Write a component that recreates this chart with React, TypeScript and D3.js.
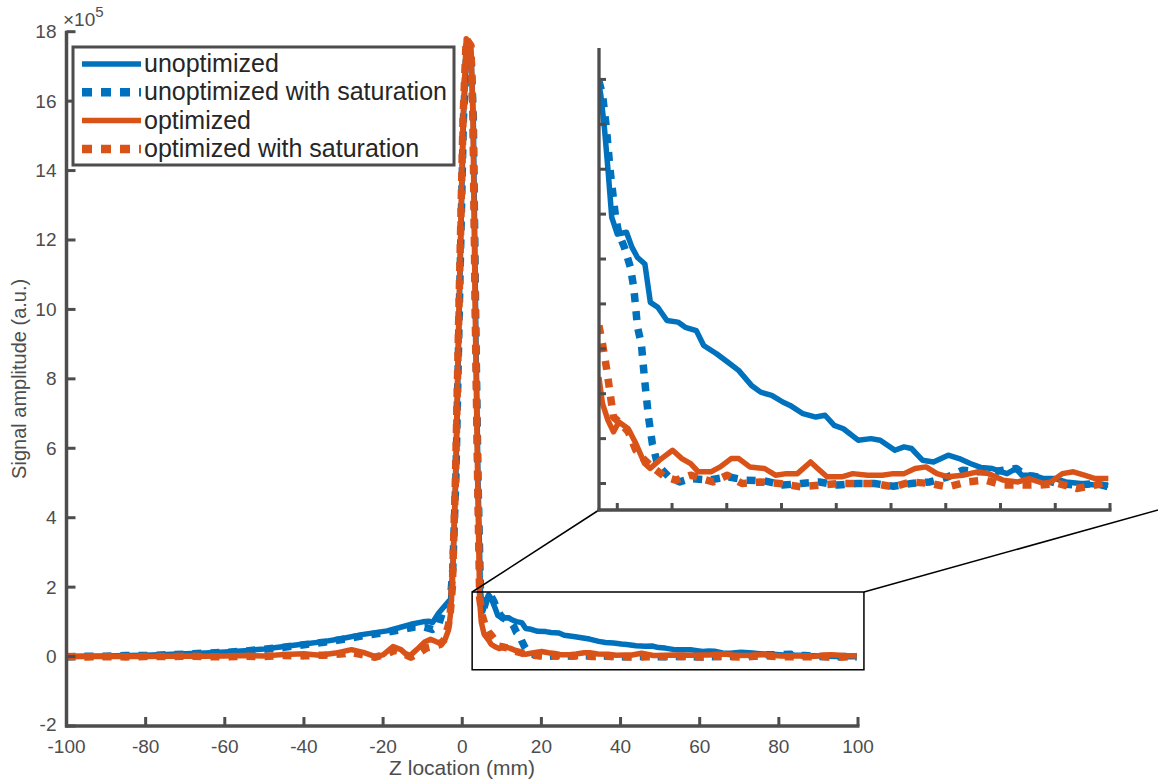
import React from 'react';
import * as d3 from 'd3';

type Pt = [number, number];

// ---------- data (amplitude in units of 1e5) ----------
const xTicks = [-100, -80, -60, -40, -20, 0, 20, 40, 60, 80, 100];
const yTicks = [-2, 0, 2, 4, 6, 8, 10, 12, 14, 16, 18];
const insetXTicks = [10, 20, 30, 40, 50, 60, 70, 80, 90, 100];
const insetYTicks = [0, 0.2, 0.4, 0.6, 0.8, 1.0, 1.2, 1.4, 1.6, 1.8];

const legendLabels = ['unoptimized', 'unoptimized with saturation', 'optimized', 'optimized with saturation'];
const seriesColors = ['#0072BD', '#0072BD', '#D95319', '#D95319'];
const seriesDotted = [false, true, false, true];

const unoptimizedNear: Pt[] = [
  [-100, 0], [-95, 0.01], [-90, 0.02], [-85, 0.03], [-80, 0.04], [-75, 0.06], [-70, 0.08], [-65, 0.1],
  [-60, 0.13], [-55, 0.17], [-50, 0.22], [-45, 0.29], [-40, 0.36], [-35, 0.43], [-30, 0.53], [-25, 0.64],
  [-22, 0.69], [-19, 0.74], [-16, 0.83], [-13, 0.93], [-10, 1.0], [-8.5, 1.02], [-7.5, 0.98], [-6, 1.25],
  [-4.5, 1.45], [-3.5, 1.5], [-3, 1.6], [-2.4, 2.5], [-1.6, 5.2], [-0.8, 9.7], [0.3, 15.5], [1.2, 17.6],
  [2.2, 17.4], [2.8, 15.5], [3.4, 9.7], [4.0, 5], [4.6, 1.9], [5.2, 1.3], [6.0, 1.6], [6.64, 1.78],
];
const unoptimizedTail: Pt[] = [
  [6.98, 1.733], [7.65, 1.585], [8.32, 1.393], [8.99, 1.185], [10, 1.111], [11.68, 1.119], [12.69, 1.052],
  [13.69, 1.007], [15.04, 0.978], [16.04, 0.807], [17.39, 0.785], [19.07, 0.726], [21.08, 0.719],
  [22.42, 0.696], [24.44, 0.681], [25.78, 0.615], [28.13, 0.578], [30.15, 0.541], [32.16, 0.504],
  [34.51, 0.437], [36.19, 0.407], [38.21, 0.393], [40.22, 0.363], [41.57, 0.348], [43.92, 0.311],
  [46.27, 0.296], [47.95, 0.304], [49.62, 0.259], [51.3, 0.244], [53.99, 0.193], [56.34, 0.2],
  [58.02, 0.193], [60.71, 0.148], [62.38, 0.163], [63.73, 0.156], [65.74, 0.104], [67.76, 0.096],
  [70.44, 0.126], [72.46, 0.111], [74.47, 0.089], [76.49, 0.071], [78.5, 0.067], [80.18, 0.052],
  [81.19, 0.044], [82.87, 0.067], [83.88, 0.037], [85.89, 0.037], [87.9, 0.022], [89.92, 0.022],
  [91.93, 0.007], [94.62, 0], [97.31, -0.007], [99.66, -0.007],
];

const unoptimizedSatNear: Pt[] = [
  [-100, -0.01], [-95, 0.01], [-90, 0.01], [-85, 0.03], [-80, 0.03], [-75, 0.05], [-70, 0.07], [-65, 0.1],
  [-60, 0.12], [-55, 0.16], [-50, 0.21], [-45, 0.27], [-40, 0.34], [-35, 0.41], [-30, 0.5], [-25, 0.6],
  [-20, 0.68], [-15, 0.78], [-12, 0.85], [-9.5, 0.85], [-7.5, 0.78], [-6, 0.9], [-4.8, 1.35], [-3.8, 1.5],
  [-3, 1.6], [-2.4, 2.5], [-1.6, 5.2], [-0.8, 9.7], [0.3, 15.5], [1.2, 17.6], [2.2, 17.4], [2.8, 15.5],
  [3.4, 9.7], [4.0, 5], [4.6, 1.9], [5.2, 1.3], [6.0, 1.6], [6.64, 1.793],
];
const unoptimizedSatTail: Pt[] = [
  [7.3, 1.733], [8.0, 1.585], [8.7, 1.393], [9.7, 1.185], [10.3, 1.111], [11.3, 1.052], [12.4, 0.963],
  [13.0, 0.874], [13.7, 0.696], [14.4, 0.622], [15.0, 0.459], [15.7, 0.296], [16.4, 0.178], [17.4, 0.081],
  [19.4, 0.03], [21.4, 0.007], [23.4, 0.022], [26.8, 0.015], [30.1, 0.03], [33.5, 0.015], [36.9, 0.012],
  [40.2, -0.007], [43.6, 0], [46.9, 0.007], [50.3, -0.007], [53.7, 0], [57.0, 0], [60.4, -0.012],
  [63.7, 0], [67.1, 0.007], [70.4, 0.03], [73.1, 0.059], [75.8, 0.052], [78.5, 0.052], [80.5, 0.059],
  [82.9, 0.067], [84.5, 0.037], [86.6, 0.03], [88.6, 0.012], [90.6, 0], [93.9, -0.007], [97.3, 0],
  [99.7, -0.015],
];

const optimizedNear: Pt[] = [
  [-100, 0], [-95, 0.01], [-90, 0], [-85, 0.01], [-80, 0], [-75, 0.01], [-70, 0.02], [-65, 0.01],
  [-60, 0.02], [-55, 0.03], [-50, 0.02], [-45, 0.06], [-40, 0.08], [-36, 0.04], [-32, 0.1], [-28, 0.2],
  [-25, 0.12], [-22, 0.0], [-20, 0.05], [-17.5, 0.29], [-15.5, 0.2], [-13.5, 0.0], [-11.5, 0.2],
  [-9.5, 0.42], [-8, 0.5], [-6, 0.4], [-4.5, 0.45], [-3.5, 0.75], [-3, 1.2], [-2.5, 2], [-1.7, 5.2],
  [-0.9, 9.7], [0.2, 15.5], [1.0, 17.8], [2.2, 17.6], [2.7, 15.5], [3.3, 9.7], [3.9, 5], [4.4, 1.6],
  [4.8, 1.0], [5.5, 0.65], [6.64, 0.474],
];
const optimizedTail: Pt[] = [
  [7.3, 0.356], [8.3, 0.281], [9.3, 0.23], [10.3, 0.274], [12.0, 0.244], [13.4, 0.178], [15.0, 0.089],
  [16.0, 0.067], [17.7, 0.104], [20.1, 0.148], [21.8, 0.111], [23.4, 0.089], [24.8, 0.052], [27.1, 0.052],
  [28.8, 0.074], [30.8, 0.111], [32.2, 0.111], [34.2, 0.074], [36.9, 0.067], [38.9, 0.037], [40.9, 0.044],
  [42.9, 0.044], [45.3, 0.096], [46.6, 0.067], [48.3, 0.03], [51.0, 0.03], [53.0, 0.044], [55.7, 0.037],
  [58.4, 0.037], [60.4, 0.044], [62.4, 0.044], [64.4, 0.067], [66.4, 0.074], [68.4, 0.044], [70.4, 0.03],
  [73.1, 0.037], [75.8, 0.052], [77.8, 0.044], [80.5, 0.015], [83.2, 0.007], [85.2, 0.022], [87.9, 0],
  [89.2, 0.007], [91.3, 0.044], [93.3, 0.052], [95.3, 0.037], [97.3, 0.022], [99.7, 0.022],
];

const optimizedSatNear: Pt[] = [
  [-100, 0], [-95, -0.01], [-90, 0], [-85, -0.01], [-80, 0], [-75, 0], [-70, 0.01], [-65, 0],
  [-60, -0.01], [-55, 0.01], [-50, 0], [-45, 0.03], [-40, 0.02], [-35, 0.04], [-30, 0.08], [-28, 0.12],
  [-25, 0.05], [-22, -0.02], [-19, 0.08], [-17, 0.18], [-15, 0.1], [-13, -0.02], [-11, 0.1], [-9, 0.25],
  [-7, 0.3], [-5.5, 0.35], [-4.5, 0.5], [-3.5, 0.9], [-3, 1.3], [-2.5, 2], [-1.7, 5.2], [-0.9, 9.7],
  [0.2, 15.5], [1.0, 17.8], [2.2, 17.6], [2.7, 15.5], [3.3, 9.7], [3.9, 5], [4.4, 1.7], [5.0, 1.2],
  [5.8, 0.9], [6.64, 0.704],
];
const optimizedSatTail: Pt[] = [
  [7.3, 0.622], [8.0, 0.519], [8.7, 0.4], [9.3, 0.296], [10.7, 0.267], [12.0, 0.23], [13.4, 0.148],
  [15.0, 0.104], [16.7, 0.067], [18.7, 0.03], [20.7, 0.015], [23.4, 0.037], [25.4, 0.022], [27.5, 0.007],
  [30.1, 0.037], [32.8, 0], [36.2, 0.007], [39.6, 0], [43.6, -0.015], [46.9, -0.007], [50.3, 0], [54.3, 0],
  [57.0, 0], [60.4, -0.015], [63.7, 0.007], [67.1, 0], [70.4, -0.015], [73.8, 0.007], [77.2, 0.015],
  [80.5, -0.007], [83.9, -0.007], [87.2, -0.007], [90.6, 0], [93.9, -0.022], [97.3, -0.007], [99.7, 0.007],
];

const zoomBoxX = [2.5, 101.5];
const zoomBoxY = [-0.38, 1.86];

const series: Pt[][] = [
  unoptimizedNear.concat(unoptimizedTail),
  unoptimizedSatNear.concat(unoptimizedSatTail),
  optimizedNear.concat(optimizedTail),
  optimizedSatNear.concat(optimizedSatTail),
];
const tails: Pt[][] = [
  [unoptimizedNear[unoptimizedNear.length - 1]].concat(unoptimizedTail),
  [unoptimizedSatNear[unoptimizedSatNear.length - 1]].concat(unoptimizedSatTail),
  [optimizedNear[optimizedNear.length - 1]].concat(optimizedTail),
  [optimizedSatNear[optimizedSatNear.length - 1]].concat(optimizedSatTail),
];

// ---------- layout ----------
const W = 1158, H = 779;
const AX = '#4d4d4d';
const FONT = '"Liberation Sans", Arial, Helvetica, sans-serif';

const x = d3.scaleLinear().domain([-100, 100]).range([66.5, 858]);
const y = d3.scaleLinear().domain([-2, 18]).range([726, 31.7]);
const ix = d3.scaleLinear().domain([6.66, 100]).range([599, 1110]);
const iy = d3.scaleLinear().domain([-0.118, 1.94]).range([510, 48]);

const SOLID_W = 5.5, DOT_W = 7.5, DASH = '9 9';

export default function App() {
  const mainLine = d3.line<Pt>().x(d => x(d[0])).y(d => y(d[1]));
  const insetLine = d3.line<Pt>().x(d => ix(d[0])).y(d => iy(d[1]));
  const [x0, x1] = x.range();
  const [y0, y1] = y.range();
  const [ix0, ix1] = ix.range();
  const [iy0, iy1] = iy.range();
  const bx0 = x(zoomBoxX[0]), bx1 = x(zoomBoxX[1]);
  const by0 = y(zoomBoxY[1]), by1 = y(zoomBoxY[0]);

  return (
    <svg width={W} height={H} style={{ position: 'absolute', left: 0, top: 0, background: '#fff' }} fontFamily={FONT}>
      <defs>
        <clipPath id="mainClip"><rect x={x0} y={y1} width={x1 - x0} height={y0 - y1} /></clipPath>
        <clipPath id="insetClip"><rect x={ix0} y={iy1} width={ix1 - ix0 + 4} height={iy0 - iy1} /></clipPath>
      </defs>

      {/* main curves */}
      <g clipPath="url(#mainClip)">
        {series.map((s, i) => (
          <path key={i} d={mainLine(s) || ''} fill="none" stroke={seriesColors[i]}
            strokeWidth={seriesDotted[i] ? DOT_W : SOLID_W}
            strokeDasharray={seriesDotted[i] ? DASH : undefined} strokeLinejoin="round" />
        ))}
      </g>

      {/* main axes */}
      <g stroke={AX} strokeWidth={3.5} fill="none">
        <line x1={x0} y1={y1 - 1} x2={x0} y2={y0 + 1.5} />
        <line x1={x0 - 1.5} y1={y0} x2={x1 + 1.5} y2={y0} />
        {yTicks.map(t => <line key={'yt' + t} x1={x0} x2={x0 + 9} y1={y(t)} y2={y(t)} strokeWidth={3} />)}
        {xTicks.map(t => <line key={'xt' + t} x1={x(t)} x2={x(t)} y1={y0} y2={y0 - 9} strokeWidth={3} />)}
      </g>
      <g fill={AX} fontSize={19}>
        {yTicks.map(t => (
          <text key={'yl' + t} x={x0 - 10} y={y(t) - (t === -2 ? 2 : 0)} textAnchor="end" dominantBaseline="central">{t}</text>
        ))}
        {xTicks.map(t => (
          <text key={'xl' + t} x={x(t)} y={753} textAnchor="middle">{t}</text>
        ))}
        <text x={63} y={26} fontSize={19}>×10<tspan dy={-9} fontSize={15}>5</tspan></text>
        <text x={462} y={775} textAnchor="middle" fontSize={21}>Z location (mm)</text>
        <text transform={`translate(26, ${(y0 + y1) / 2}) rotate(-90)`} textAnchor="middle" fontSize={20}>Signal amplitude (a.u.)</text>
      </g>

      {/* zoom box and connectors */}
      <g stroke="#000" strokeWidth={1.5} fill="none">
        <rect x={bx0} y={by0} width={bx1 - bx0} height={by1 - by0} />
        <line x1={bx0} y1={by0} x2={ix0} y2={iy0} />
        <line x1={bx1} y1={by0} x2={1160} y2={iy0 - 0.5} />
      </g>

      {/* inset curves */}
      <g clipPath="url(#insetClip)">
        {tails.map((s, i) => (
          <path key={i} d={insetLine(s) || ''} fill="none" stroke={seriesColors[i]}
            strokeWidth={seriesDotted[i] ? DOT_W : SOLID_W}
            strokeDasharray={seriesDotted[i] ? DASH : undefined} strokeLinejoin="round" />
        ))}
      </g>

      {/* inset axes */}
      <g stroke={AX} strokeWidth={3.3} fill="none">
        <line x1={ix0} y1={iy1} x2={ix0} y2={iy0 + 1.5} />
        <line x1={ix0 - 1.5} y1={iy0} x2={ix1 + 1.5} y2={iy0} />
        {insetYTicks.map(t => <line key={'iyt' + t} x1={ix0} x2={ix0 + 7} y1={iy(t)} y2={iy(t)} strokeWidth={3} />)}
        {insetXTicks.map(t => <line key={'ixt' + t} x1={ix(t)} x2={ix(t)} y1={iy0} y2={iy0 - 7} strokeWidth={3} />)}
      </g>

      {/* legend */}
      <g>
        <rect x={73} y={47} width={381} height={118} fill="#fff" stroke={AX} strokeWidth={3} />
        {legendLabels.map((lab, i) => {
          const cy = 64 + i * 28.3;
          return (
            <g key={lab}>
              <line x1={82} x2={141} y1={cy} y2={cy} stroke={seriesColors[i]}
                strokeWidth={seriesDotted[i] ? DOT_W + 1 : SOLID_W}
                strokeDasharray={seriesDotted[i] ? '10 9' : undefined} />
              <text x={144} y={cy + 8} fontSize={25} fill="#262626">{lab}</text>
            </g>
          );
        })}
      </g>
    </svg>
  );
}
